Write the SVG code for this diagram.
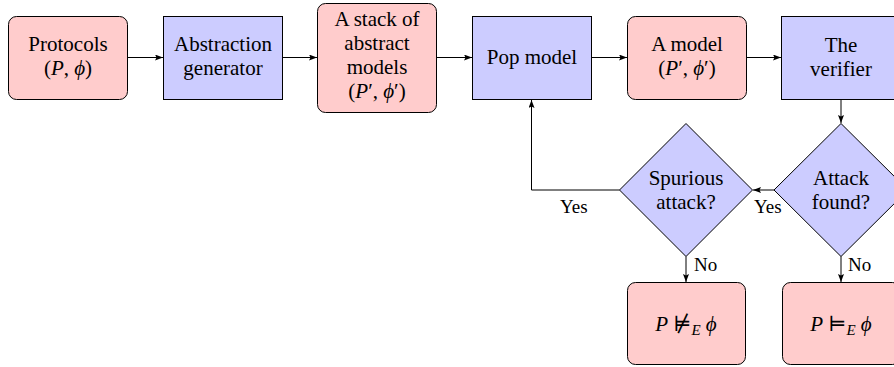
<svg xmlns="http://www.w3.org/2000/svg" width="894" height="367" viewBox="0 0 894 367">
  <style>
    .term { fill: #ffcccc; stroke: #000; stroke-width: 1; }
    .proc { fill: #ccccff; stroke: #000; stroke-width: 1; }
    .lbl { font-family: "Liberation Serif", "DejaVu Serif", serif; font-size: 21px; fill: #000; text-anchor: middle; }
    .sm { font-family: "Liberation Serif", "DejaVu Serif", serif; font-size: 19px; fill: #000; }
    .m { font-style: italic; }
    .sym { font-family: "DejaVu Serif", "Liberation Serif", serif; font-style: normal; }
    .edge { fill: none; stroke: #000; stroke-width: 1; marker-end: url(#arr); }
  </style>
  <defs>
    <marker id="arr" viewBox="0 0 8 6" refX="8" refY="3" markerWidth="8" markerHeight="6" markerUnits="userSpaceOnUse" orient="auto">
      <path d="M0,0 L8,3 L0,6 L1.5,3 Z" fill="#000"/>
    </marker>
  </defs>

  <rect width="894" height="367" fill="#fff"/>

  <g id="protocols">
    <rect class="term" x="8.5" y="16.5" width="119" height="83" rx="8"/>
    <text class="lbl" x="68" y="51">Protocols</text>
    <text class="lbl" x="68" y="75">(<tspan class="m">P</tspan>, <tspan class="m">ϕ</tspan>)</text>
  </g>

  <g id="abstraction-generator">
    <rect class="proc" x="163.5" y="16.5" width="119" height="83"/>
    <text class="lbl" x="223" y="51">Abstraction</text>
    <text class="lbl" x="223" y="75">generator</text>
  </g>

  <g id="model-stack">
    <rect class="term" x="317.5" y="3.5" width="119" height="109" rx="8"/>
    <text class="lbl" x="377" y="26">A stack of</text>
    <text class="lbl" x="377" y="50">abstract</text>
    <text class="lbl" x="377" y="74">models</text>
    <text class="lbl" x="377" y="98">(<tspan class="m">P</tspan>′, <tspan class="m">ϕ</tspan>′)</text>
  </g>

  <g id="pop-model">
    <rect class="proc" x="472.5" y="16.5" width="119" height="83"/>
    <text class="lbl" x="532" y="64">Pop model</text>
  </g>

  <g id="a-model">
    <rect class="term" x="627.5" y="16.5" width="119" height="83" rx="8"/>
    <text class="lbl" x="687" y="51">A model</text>
    <text class="lbl" x="687" y="75">(<tspan class="m">P</tspan>′, <tspan class="m">ϕ</tspan>′)</text>
  </g>

  <g id="verifier">
    <rect class="proc" x="781.5" y="16.5" width="119" height="83"/>
    <text class="lbl" x="841" y="52">The</text>
    <text class="lbl" x="841" y="76">verifier</text>
  </g>

  <g id="attack-found">
    <polygon class="proc" points="841,123.5 908,190 841,256.5 774,190"/>
    <text class="lbl" x="841" y="185">Attack</text>
    <text class="lbl" x="841" y="209">found?</text>
  </g>

  <g id="spurious-attack">
    <polygon class="proc" points="686,123.5 752.5,190 686,256.5 619.5,190"/>
    <text class="lbl" x="686" y="185">Spurious</text>
    <text class="lbl" x="686" y="209">attack?</text>
  </g>

  <g id="not-satisfies">
    <rect class="term" x="627.5" y="282.5" width="118" height="82" rx="8"/>
    <text class="lbl" x="686" y="331"><tspan class="m">P</tspan> <tspan class="sym">⊭</tspan><tspan class="m" font-size="15" dy="4">E</tspan> <tspan class="m" dy="-4">ϕ</tspan></text>
  </g>

  <g id="satisfies">
    <rect class="term" x="782.5" y="282.5" width="118" height="82" rx="8"/>
    <text class="lbl" x="841" y="331"><tspan class="m">P</tspan> <tspan class="sym">⊨</tspan><tspan class="m" font-size="15" dy="4">E</tspan> <tspan class="m" dy="-4">ϕ</tspan></text>
  </g>

  <g id="connectors">
    <path class="edge" d="M127.5,57.5 H163" stroke-width="1.4"/>
    <path class="edge" d="M282.5,57.5 H317"/>
    <path class="edge" d="M436.5,57.5 H472"/>
    <path class="edge" d="M591.5,57.5 H627"/>
    <path class="edge" d="M746.5,57.5 H781"/>
    <path class="edge" d="M841,99.5 V123"/>
    <path class="edge" d="M774,190 H753"/>
    <path class="edge" d="M619.5,190 H531.5 V100"/>
    <path class="edge" d="M686,256.5 V282"/>
    <path class="edge" d="M841,256.5 V282"/>
    <text class="sm" x="560" y="213">Yes</text>
    <text class="sm" x="754" y="213">Yes</text>
    <text class="sm" x="694" y="271">No</text>
    <text class="sm" x="848" y="271">No</text>
  </g>
</svg>
